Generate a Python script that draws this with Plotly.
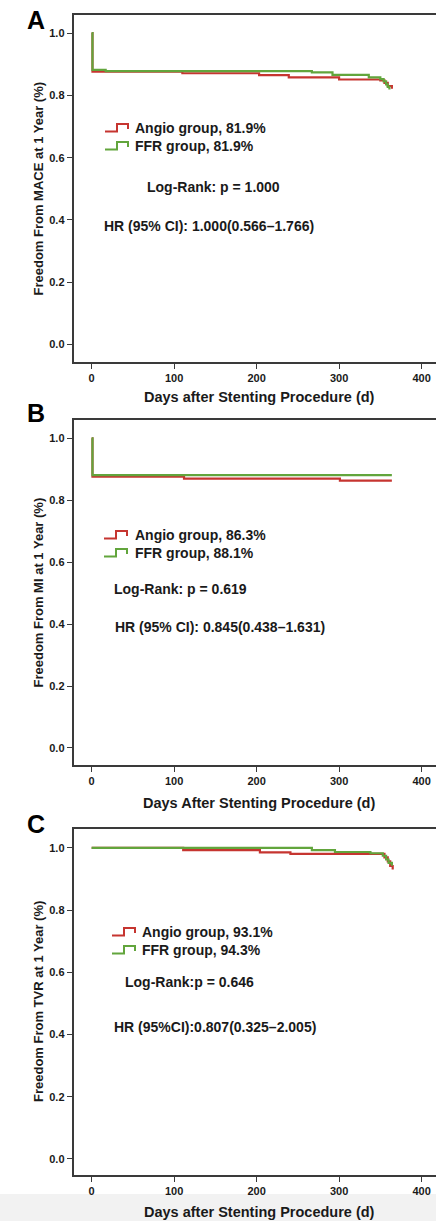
import plotly.graph_objects as go

W, H = 436, 1221

# ---------------- data ----------------
x_ticks = [0, 100, 200, 300, 400]
y_ticks = [0.0, 0.2, 0.4, 0.6, 0.8, 1.0]
y_tick_text = ["0.0", "0.2", "0.4", "0.6", "0.8", "1.0"]

# Panel A: MACE
angio_A_days = [0, 1, 110, 203, 239, 300, 350, 355, 359, 364]
angio_A_surv = [1.0, 0.876, 0.871, 0.865, 0.858, 0.851, 0.848, 0.840, 0.830, 0.821]
ffr_A_days = [0, 1, 17, 267, 292, 336, 350, 354, 357, 359, 361]
ffr_A_surv = [1.0, 0.882, 0.878, 0.874, 0.866, 0.858, 0.852, 0.845, 0.835, 0.827, 0.819]

# Panel B: MI
angio_B_days = [0, 1, 112, 301, 364]
angio_B_surv = [1.0, 0.876, 0.870, 0.863, 0.863]
ffr_B_days = [0, 1, 364]
ffr_B_surv = [1.0, 0.881, 0.881]

# Panel C: TVR
angio_C_days = [0, 111, 204, 241, 355, 359, 362, 365]
angio_C_surv = [1.0, 0.993, 0.986, 0.981, 0.970, 0.957, 0.942, 0.931]
ffr_C_days = [0, 267, 295, 338, 353, 357, 360, 364]
ffr_C_surv = [1.0, 0.993, 0.987, 0.983, 0.975, 0.963, 0.952, 0.943]

panel_letters = ["A", "B", "C"]
y_titles = ["Freedom From MACE at 1 Year (%)",
            "Freedom From MI at 1 Year (%)",
            "Freedom From TVR at 1 Year (%)"]
x_titles = ["Days after Stenting Procedure (d)",
            "Days After Stenting Procedure (d)",
            "Days after Stenting Procedure (d)"]
legend_angio = ["Angio group, 81.9%", "Angio group, 86.3%", "Angio group, 93.1%"]
legend_ffr = ["FFR group, 81.9%", "FFR group, 88.1%", "FFR group, 94.3%"]
logrank = ["Log-Rank: p = 1.000", "Log-Rank: p = 0.619", "Log-Rank:p = 0.646"]
hr_text = ["HR (95% CI): 1.000(0.566\u20131.766)",
           "HR (95% CI): 0.845(0.438\u20131.631)",
           "HR (95%CI):0.807(0.325\u20132.005)"]

RED = "#c63530"
GREEN = "#62a53c"
AXC = "#3a3a3a"
FONT = "Liberation Sans, Arial, sans-serif"

# ---------------- layout helpers (pixel geometry) ----------------
def px(x):
    return x / W

def py(y):
    return 1 - y / H

panels = [
    dict(top=15, bottom=362, yr=[-0.056, 1.058], letter_y=20, xt_y=397,
         leg_x=105, txt_x=133, leg_y=128, lr=(145, 187), hr=(102, 226)),
    dict(top=420, bottom=765, yr=[-0.055, 1.059], letter_y=413, xt_y=803,
         leg_x=104, txt_x=133, leg_y=535, lr=(112, 589), hr=(113, 627)),
    dict(top=829, bottom=1175, yr=[-0.0515, 1.061], letter_y=824, xt_y=1212,
         leg_x=112, txt_x=140, leg_y=932, lr=(123, 982), hr=(112, 1027)),
]

series = [
    (angio_A_days, angio_A_surv, ffr_A_days, ffr_A_surv),
    (angio_B_days, angio_B_surv, ffr_B_days, ffr_B_surv),
    (angio_C_days, angio_C_surv, ffr_C_days, ffr_C_surv),
]

fig = go.Figure()
annotations = []
shapes = []

# faint gray bottom band like the screenshot
shapes.append(dict(type="rect", xref="paper", yref="paper", x0=0, x1=1,
                   y0=0, y1=py(1194), fillcolor="#f2f2f2", line_width=0,
                   layer="below"))

for i, p in enumerate(panels):
    n = "" if i == 0 else str(i + 1)
    xa, ya = "x" + n, "y" + n
    ad, asv, fd, fsv = series[i]
    fig.add_trace(go.Scatter(x=ad, y=asv, mode="lines", line_shape="hv",
                             line=dict(color=RED, width=2.2), xaxis=xa, yaxis=ya,
                             showlegend=False, hoverinfo="skip"))
    fig.add_trace(go.Scatter(x=fd, y=fsv, mode="lines", line_shape="hv",
                             line=dict(color=GREEN, width=2.2), xaxis=xa, yaxis=ya,
                             showlegend=False, hoverinfo="skip"))

    axis_common = dict(showgrid=False, zeroline=False, showline=True,
                       linecolor=AXC, linewidth=1.6, ticks="outside",
                       tickcolor=AXC, tickwidth=1.4, ticklen=5,
                       tickfont=dict(family=FONT, size=11, color="#1a1a1a",
                                     weight="bold"))
    fig.update_layout(**{
        "xaxis" + n: dict(axis_common, domain=[px(73.5), 1.0],
                          range=[-22, 417.5], tickvals=x_ticks,
                          anchor=ya, mirror=True, fixedrange=True),
        "yaxis" + n: dict(axis_common, domain=[py(p["bottom"]), py(p["top"])],
                          range=p["yr"], tickvals=y_ticks, ticktext=y_tick_text,
                          anchor=xa, fixedrange=True),
    })

    annotations.append(dict(text=panel_letters[i], xref="paper", yref="paper",
                            x=px(25), y=py(p["letter_y"]), xanchor="left",
                            yanchor="middle", showarrow=False,
                            font=dict(family=FONT, size=25, color="#000",
                                      weight="bold")))
    annotations.append(dict(text=y_titles[i], xref="paper", yref="paper",
                            x=px(38), y=py((p["top"] + p["bottom"]) / 2),
                            xanchor="center", yanchor="middle", textangle=-90,
                            showarrow=False,
                            font=dict(family=FONT, size=13, color="#1a1a1a",
                                      weight="bold")))
    annotations.append(dict(text=x_titles[i], xref="paper", yref="paper",
                            x=px(259), y=py(p["xt_y"]), xanchor="center",
                            yanchor="middle", showarrow=False,
                            font=dict(family=FONT, size=14.5, color="#1a1a1a",
                                      weight="bold")))
    tf = dict(family=FONT, size=14, color="#1a1a1a", weight="bold")
    for k, (lab, col) in enumerate([(legend_angio[i], RED), (legend_ffr[i], GREEN)]):
        yc = p["leg_y"] + 18 * k
        x0 = p["leg_x"]
        path = (f"M {px(x0)} {py(yc + 3.5)} L {px(x0 + 12)} {py(yc + 3.5)} "
                f"L {px(x0 + 12)} {py(yc - 4)} L {px(x0 + 23)} {py(yc - 4)} "
                f"L {px(x0 + 23)} {py(yc + 1)}")
        shapes.append(dict(type="path", xref="paper", yref="paper", path=path,
                           line=dict(color=col, width=2)))
        annotations.append(dict(text=lab, xref="paper", yref="paper",
                                x=px(p["txt_x"]), y=py(yc), xanchor="left",
                                yanchor="middle", showarrow=False, font=tf))
    annotations.append(dict(text=logrank[i], xref="paper", yref="paper",
                            x=px(p["lr"][0]), y=py(p["lr"][1]), xanchor="left",
                            yanchor="middle", showarrow=False, font=tf))
    annotations.append(dict(text=hr_text[i], xref="paper", yref="paper",
                            x=px(p["hr"][0]), y=py(p["hr"][1]), xanchor="left",
                            yanchor="middle", showarrow=False, font=tf))

fig.update_layout(width=W, height=H, margin=dict(l=0, r=0, t=0, b=0),
                  paper_bgcolor="white", plot_bgcolor="white",
                  showlegend=False, annotations=annotations, shapes=shapes,
                  font=dict(family=FONT))

fig.write_html("out.html", config={"displayModeBar": False})
